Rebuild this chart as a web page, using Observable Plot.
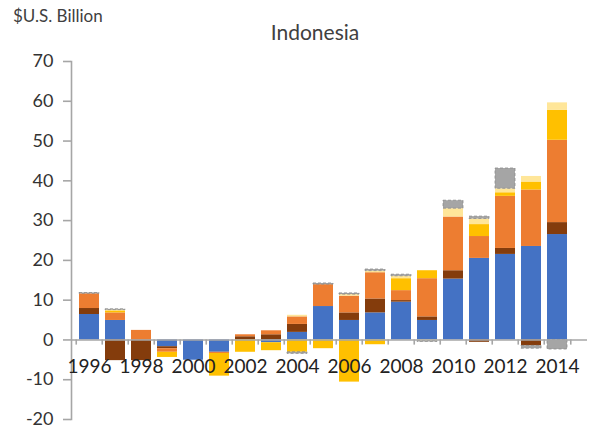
<!DOCTYPE html>
<html><head><meta charset="utf-8">
<script src="https://cdn.jsdelivr.net/npm/d3@7"></script>
<script src="https://cdn.jsdelivr.net/npm/@observablehq/plot@0.6"></script>
<style>
body{margin:0;background:#fff;}
#wrap{position:relative;width:597px;height:430px;font-family:Lato,"Open Sans",sans-serif;}
#unit{position:absolute;left:13px;top:5px;font-size:17px;color:#404040;white-space:nowrap;}
#title{position:absolute;left:0;width:630px;text-align:center;top:19px;font-size:21px;color:#404040;}
#chart{position:absolute;left:0;top:0;}
</style></head><body>
<div id="wrap"><div id="chart"></div><div id="unit">$U.S. Billion</div><div id="title">Indonesia</div></div>
<script>
const years = [1996,1997,1998,1999,2000,2001,2002,2003,2004,2005,2006,2007,2008,2009,2010,2011,2012,2013,2014];
const labelYears = [1996,1998,2000,2002,2004,2006,2008,2010,2012,2014];
const yTicks = [-20,-10,0,10,20,30,40,50,60,70];
const blue        = [6.4, 4.9, 0, -1.7, -5.1, -3.1, 0, -0.7, 1.9, 8.4, 4.9, 6.8, 9.5, 4.9, 15.3, 20.5, 21.5, 23.5, 26.5];
const brown       = [1.5, -5.2, -5.2, -0.5, 0, 0, 0.8, 1.3, 2.0, 0, 1.9, 3.5, 0.4, 0.9, 2.1, -0.6, 1.5, -1.5, 3.0];
const orange      = [3.7, 1.9, 2.4, -0.9, 0, -0.3, 0.5, 1.0, 1.9, 5.5, 4.2, 6.6, 2.5, 9.6, 13.5, 5.5, 13.1, 14.2, 20.7];
const yellow      = [0, 0.5, 0, -1.3, 0, -5.7, -3.1, -2.0, -3.1, -2.2, -10.6, -1.2, 3.0, 2.0, 0, 3.0, 0.9, 2.0, 7.5];
const lightYellow = [0, 0.2, 0, 0, 0, 0, 0, 0, 0.4, 0, 0.4, 0.4, 0.6, -0.3, 2.1, 1.4, 1.0, 1.4, 1.9];
const gray        = [0.2, 0.2, 0, 0, 0, 0, 0, 0, -0.4, 0.3, 0.3, 0.4, 0.4, -0.2, 2.0, 0.6, 5.1, -0.7, -2.4];

const seriesNames = ["Series 1","Series 2","Series 3","Series 4","Series 5","Series 6"];
const seriesColors = ["#4472C4","#843C0C","#ED7D31","#FFC000","#FFE699","#A5A5A5"];
const seriesValues = [blue, brown, orange, yellow, lightYellow, gray];

const data = seriesNames.flatMap((name, s) =>
  seriesValues[s].map((v, i) => ({year: years[i], value: v, series: name, outlined: s === 5 && v !== 0})));

const xRange = [71, 575];
const step = (xRange[1] - xRange[0]) / years.length;
const axisGray = "#A6A6A6";

const plot = Plot.plot({
  width: 597,
  height: 430,
  marginLeft: 71,
  marginRight: 10,
  marginTop: 61,
  marginBottom: 11,
  style: {fontFamily: "Lato, 'Open Sans', sans-serif", background: "transparent"},
  x: {type: "band", domain: years, range: xRange, paddingInner: 0.25, paddingOuter: 0.125, axis: null},
  y: {domain: [-20, 70], axis: null},
  color: {domain: seriesNames, range: seriesColors},
  marks: [
    Plot.barY(data, Plot.stackY({x: "year", y: "value", z: "series", fill: "series", order: seriesNames})),
    Plot.barY(data, Plot.stackY({x: "year", y: "value", z: "series", order: seriesNames, fill: "none",
      stroke: "#8A8A8A", strokeOpacity: d => d.outlined ? 1 : 0, strokeDasharray: "3,2", strokeWidth: 0.8})),
    Plot.frame({anchor: "left", stroke: axisGray, strokeWidth: 1.6}),
    Plot.axisY({ticks: yTicks, label: null, tickSize: 8, tickPadding: 10, tickFormat: d => String(d), fontSize: 18, stroke: axisGray, strokeWidth: 1.6, fill: "#333", anchor: "left"}),
    Plot.ruleY([0], {stroke: axisGray, strokeWidth: 1.6}),
    Plot.ruleX(years, {x: d => d, dx: -step / 2, y1: 0, y2: -1.3, stroke: axisGray, strokeWidth: 1.6}),
    Plot.ruleX([years[years.length - 1]], {x: d => d, dx: step / 2, y1: 0, y2: -1.3, stroke: axisGray, strokeWidth: 1.6}),
    Plot.text(labelYears, {x: d => d, y: 0, dy: 27, text: d => String(d), fontSize: 19, fill: "#222"})
  ]
});
document.getElementById("chart").appendChild(plot);
</script>
</body></html>
